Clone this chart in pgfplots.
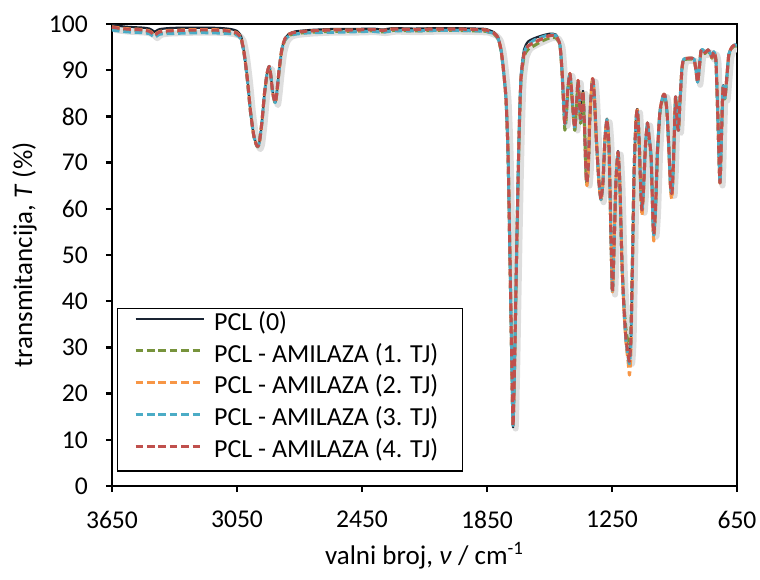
\documentclass[border=0pt]{standalone}
\usepackage{pgfplots}
\pgfplotsset{compat=1.18}
\usepackage{pgfplotstable}
\usepackage{fontspec}
\setmainfont{Carlito}
\definecolor{pclc}{HTML}{1A2433}
\definecolor{gr}{HTML}{77933C}
\definecolor{og}{HTML}{F79646}
\definecolor{tl}{HTML}{4BACC6}
\definecolor{rd}{HTML}{C0504D}
\pgfplotstableread{
nu pcl a1 a2 a3 a4
3650 99.8 99.1 99.4 98.7 99.3
3620 99.6 98.9 99.2 98.5 99.1
3580 99.4 98.7 99.0 98.3 98.9
3540 99.3 98.6 98.9 98.2 98.8
3500 99.2 98.5 98.8 98.1 98.7
3470 99.0 98.2 98.5 97.9 98.4
3455 98.6 97.7 98.0 97.4 97.9
3445 98.3 97.3 97.6 97.1 97.5
3435 98.6 97.7 98.0 97.4 97.9
3420 98.9 98.1 98.4 97.8 98.3
3380 99.1 98.3 98.6 97.9 98.5
3320 99.2 98.4 98.7 98.0 98.6
3250 99.2 98.5 98.8 98.1 98.7
3180 99.2 98.5 98.8 98.1 98.7
3120 99.1 98.4 98.7 98.0 98.6
3080 98.9 98.2 98.5 97.9 98.4
3050 98.5 97.8 98.1 97.6 98.0
3030 97.3 96.7 97.0 96.7 96.9
3015 93.6 93.3 93.5 93.3 93.5
3000 88.0 87.8 88.0 87.9 88.0
2985 81.0 80.8 81.0 80.9 81.0
2970 76.0 75.9 76.0 76.0 76.0
2958 74.0 73.9 74.0 74.0 74.0
2950 73.5 73.4 73.5 73.5 73.5
2942 74.5 74.4 74.5 74.5 74.5
2930 79.0 78.8 79.0 79.0 79.0
2918 85.0 84.8 85.0 85.0 85.0
2905 89.5 89.3 89.5 89.5 89.5
2895 90.9 90.6 90.8 90.8 90.8
2888 89.0 88.8 89.0 89.0 89.0
2878 85.0 84.8 85.0 85.0 85.0
2866 83.0 82.8 83.0 83.0 83.0
2858 85.5 85.3 85.5 85.5 85.5
2848 90.0 89.8 90.0 90.0 90.0
2835 94.5 94.2 94.5 94.4 94.5
2820 96.8 96.5 96.8 96.6 96.8
2800 97.9 97.5 97.8 97.4 97.8
2770 98.4 97.9 98.2 97.8 98.2
2700 98.7 98.2 98.5 98.1 98.5
2600 98.9 98.4 98.7 98.2 98.7
2500 98.9 98.4 98.7 98.3 98.7
2400 99.0 98.5 98.8 98.4 98.8
2350 98.8 98.3 98.6 98.2 98.6
2300 99.1 98.6 98.9 98.5 98.9
2200 99.0 98.5 98.8 98.5 98.8
2100 99.1 98.6 98.9 98.6 98.9
2000 99.1 98.6 98.9 98.6 98.9
1900 99.0 98.5 98.8 98.5 98.8
1855 98.9 98.4 98.7 98.4 98.7
1816 98.2 97.8 98.0 97.9 98.0
1797 97.2 96.8 97.0 96.9 97.0
1783 94.6 94.3 94.5 94.4 94.5
1773 91.0 90.8 91.0 90.9 91.0
1759 84.0 83.8 84.0 83.9 84.0
1749 72.0 71.8 72.0 71.9 72.0
1740 50.0 49.8 50.0 49.9 50.0
1730 24.0 24.2 24.0 24.1 24.0
1725 12.7 13.2 13.0 13.1 13.0
1718 25.0 25.2 25.0 25.1 25.0
1706 55.0 54.5 55.0 55.2 55.0
1696 76.5 75.5 76.0 76.2 76.0
1687 89.0 87.5 88.0 88.3 88.0
1672 94.5 93.0 93.5 93.8 93.5
1653 96.2 94.5 95.2 95.5 95.2
1624 96.9 95.3 96.0 96.5 96.0
1586 97.5 96.3 96.8 97.2 96.8
1548 97.9 97.0 97.5 97.7 97.5
1519 97.7 97.0 97.4 97.5 97.4
1500 95.5 95.3 95.5 95.5 95.5
1490 90.0 89.6 90.0 90.0 90.0
1480 81.0 80.0 81.0 81.0 81.0
1476 78.5 77.0 78.5 78.3 78.5
1469 81.0 80.0 81.0 81.0 81.0
1462 86.0 85.5 86.0 86.0 86.0
1452 89.3 89.0 89.3 89.3 89.3
1443 85.0 84.5 85.0 85.0 85.0
1433 79.0 78.5 79.0 79.0 79.0
1428 77.5 77.0 77.5 77.3 77.5
1421 82.0 81.5 82.0 82.0 82.0
1413 87.8 87.3 87.8 87.6 87.8
1406 83.0 82.0 83.0 83.0 83.0
1401 79.5 78.5 79.5 79.3 79.5
1394 82.0 81.5 82.0 82.0 82.0
1389 85.5 85.0 85.5 85.5 85.5
1382 78.0 77.5 78.0 78.0 78.0
1375 68.0 67.8 67.5 68.0 68.0
1370 65.6 65.5 65.0 65.6 65.6
1363 70.0 70.0 69.5 70.0 70.0
1356 80.0 80.0 80.0 80.0 80.0
1346 87.5 87.0 87.5 87.3 87.5
1341 88.0 87.5 88.0 87.8 88.0
1334 84.0 83.5 84.0 84.0 84.0
1325 75.0 74.8 75.0 75.0 75.0
1313 66.0 66.0 66.0 66.0 66.0
1303 62.0 62.0 62.0 62.0 62.0
1293 66.0 66.0 66.0 66.0 66.0
1284 75.0 74.5 75.0 75.0 75.0
1274 79.5 79.0 79.3 79.3 79.3
1264 73.0 73.0 73.0 73.0 73.0
1255 54.0 54.0 54.0 54.0 54.0
1248 42.0 42.0 42.0 42.0 42.0
1240 52.0 52.0 52.0 52.0 52.0
1231 66.0 66.0 66.0 66.0 66.0
1221 72.5 72.0 72.3 72.3 72.3
1212 65.0 65.0 65.0 65.0 65.0
1202 48.0 48.5 48.0 48.0 48.0
1192 38.0 39.0 37.5 38.0 38.0
1183 32.0 34.0 31.0 31.5 32.0
1173 29.0 31.0 27.0 28.0 28.5
1166 28.5 30.5 24.0 26.5 27.0
1159 32.0 34.0 29.0 31.0 32.0
1152 48.0 49.0 46.0 47.5 48.0
1144 68.0 68.0 67.0 68.0 68.0
1135 79.0 79.0 79.0 79.0 79.0
1128 81.6 81.2 81.4 81.4 81.4
1120 75.0 75.0 75.0 75.0 75.0
1111 63.0 63.0 62.5 63.0 63.0
1106 59.7 59.7 58.5 59.5 59.7
1099 64.0 64.0 63.5 64.0 64.0
1089 74.0 73.8 74.0 74.0 74.0
1080 78.6 78.2 78.6 78.6 78.6
1073 76.0 75.8 76.0 76.0 76.0
1065 72.8 72.5 72.8 72.8 72.8
1061 70.0 69.8 69.5 70.0 70.0
1053 57.0 57.0 56.0 57.0 57.0
1049 54.5 54.5 53.0 54.3 54.5
1041 60.0 60.0 59.5 60.0 60.0
1032 72.0 71.8 72.0 72.0 72.0
1020 81.0 80.7 81.0 81.0 81.0
1005 84.5 84.2 84.5 84.5 84.5
996 84.7 84.4 84.6 84.6 84.6
986 81.0 80.8 81.0 81.0 81.0
976 72.0 72.0 71.5 72.0 72.0
969 65.0 65.0 64.0 65.0 65.0
962 63.4 63.4 62.2 63.2 63.4
955 70.0 70.0 69.5 70.0 70.0
945 84.2 84.0 84.2 84.2 84.2
938 79.0 79.0 79.0 79.0 79.0
931 77.0 77.0 77.0 77.0 77.0
924 83.0 83.0 83.0 83.0 83.0
914 90.5 90.3 90.5 90.5 90.5
905 92.4 92.2 92.4 92.4 92.4
876 92.6 92.4 92.6 92.6 92.6
856 92.4 92.2 92.4 92.4 92.4
847 90.0 90.0 90.0 90.0 90.0
839 87.4 87.4 87.4 87.4 87.4
832 90.0 90.0 90.0 90.0 90.0
823 94.2 94.0 94.2 94.2 94.2
813 94.4 94.2 94.4 94.4 94.4
804 93.8 93.6 93.8 93.8 93.8
789 94.4 94.2 94.4 94.4 94.4
780 93.8 93.6 93.8 93.8 93.8
770 92.8 92.6 92.8 92.8 92.8
761 94.0 93.8 94.0 94.0 94.0
751 92.0 92.0 92.0 92.0 92.0
742 80.0 80.0 80.0 80.0 80.0
732 65.6 65.6 65.6 65.6 65.6
725 75.0 75.0 75.0 75.0 75.0
717 86.6 86.2 86.4 86.4 86.4
708 84.0 83.8 84.0 84.0 84.0
698 89.0 88.8 89.0 89.0 89.0
689 93.5 93.3 93.5 93.5 93.5
674 95.0 94.8 95.0 95.0 95.0
660 95.5 95.3 95.5 95.5 95.5
650 95.3 95.1 95.3 95.3 95.3
}\spec
\begin{document}
\begin{tikzpicture}
\begin{axis}[
  name=ax,
  scale only axis,
  width=312.5pt, height=231pt,
  x dir=reverse,
  xmin=650, xmax=3650, ymin=0, ymax=100,
  xtick={650,1250,1850,2450,3050,3650},
  ytick={0,10,...,100},
  axis line style={line width=1.4pt, black},
  tick style={line width=1.2pt, black},
  tick align=outside,
  major tick length=3pt,
  xtick pos=bottom, ytick pos=left,
  /pgf/number format/assume math mode=true,
  /pgf/number format/1000 sep={},
  tick label style={font=\fontsize{12.8}{14}\selectfont},
  xticklabel shift=6pt,
  yticklabel shift=5.5pt,
  xlabel={valni broj, \textit{ν} / cm\textsuperscript{-1}},
  ylabel={transmitancija, \textit{T} (\%)},
  label style={font=\fontsize{13.5}{16}\selectfont},
  xlabel style={at={(axis description cs:0.5,-0.151)}, anchor=center},
  ylabel style={at={(axis description cs:-0.14,0.5)}, anchor=center, rotate=0},
  legend cell align=left,
  legend style={at={(axis description cs:0.008,0.031)}, anchor=south west,
    draw=black, line width=0.6pt, inner xsep=0pt, inner ysep=1pt,
    font=\fontsize{13}{15}\selectfont, row sep=0pt,
    nodes={inner xsep=4.5pt, inner ysep=0pt, text height=10pt, text depth=5.85pt}},
  legend image code/.code={\path[draw=none] (0pt,0pt) -- (43pt,0pt); \draw[#1] (9pt,3.6pt) -- (43pt,3.6pt);},
  every axis plot/.append style={line join=round},
]
\addplot[forget plot, black!13, line width=3pt, smooth, tension=0.35, transform canvas={xshift=1.3pt, yshift=-1.3pt}] table[x=nu,y=a4] {\spec};
\addplot[pclc, line width=1.1pt, solid, smooth, tension=0.35] table[x=nu,y=pcl] {\spec};
\addlegendentry{PCL (0)}
\addplot[gr, line width=1.5pt, dash pattern=on 3.8pt off 1.9pt, smooth, tension=0.35] table[x=nu,y=a1] {\spec};
\addlegendentry{PCL - AMILAZA (1. TJ)\hspace*{7.5pt}}
\addplot[og, line width=1.5pt, dash pattern=on 3.8pt off 1.9pt, smooth, tension=0.35] table[x=nu,y=a2] {\spec};
\addlegendentry{PCL - AMILAZA (2. TJ)}
\addplot[tl, line width=1.5pt, dash pattern=on 3.8pt off 1.9pt, smooth, tension=0.35] table[x=nu,y=a3] {\spec};
\addlegendentry{PCL - AMILAZA (3. TJ)}
\addplot[rd, line width=1.5pt, dash pattern=on 3.8pt off 1.9pt, smooth, tension=0.35] table[x=nu,y=a4] {\spec};
\addlegendentry{PCL - AMILAZA (4. TJ)}
\end{axis}
\pgfresetboundingbox
\path[use as bounding box] ([shift={(-56pt,-46.5pt)}]ax.south west) rectangle ([shift={(324pt,243pt)}]ax.south west);
\end{tikzpicture}
\end{document}
